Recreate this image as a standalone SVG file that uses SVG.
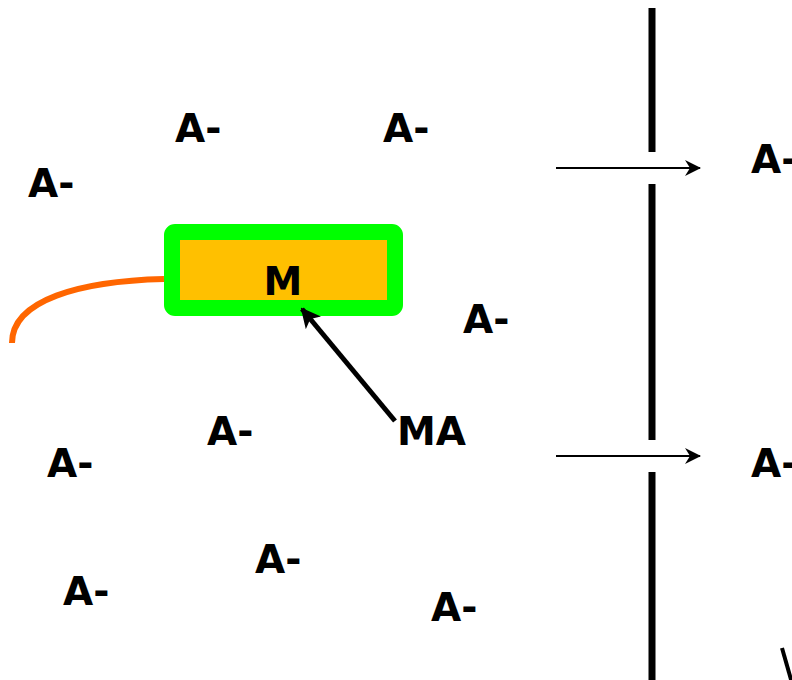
<svg xmlns="http://www.w3.org/2000/svg" width="792" height="680" viewBox="0 0 792 680">
<style>
text{font-family:"DejaVu Sans","Open Sans",sans-serif;font-weight:bold;font-size:39px;fill:#000}
.bar{stroke:#000;stroke-width:7;fill:none}
.arr{stroke:#000;stroke-width:2;fill:none}
</style>
<defs>
<marker id="ah" viewBox="0 0 16 16" refX="15" refY="8" markerWidth="16" markerHeight="16" markerUnits="userSpaceOnUse" orient="auto">
<path d="M0,0 L16,8 L0,16 L5,8 Z" fill="#000"/>
</marker>
<marker id="ah2" viewBox="0 0 20 20" refX="18" refY="10" markerWidth="20" markerHeight="20" markerUnits="userSpaceOnUse" orient="auto">
<path d="M0,0 L20,10 L0,20 L5,10 Z" fill="#000"/>
</marker>
</defs>
<g id="wall">
<line class="bar" x1="652" y1="8" x2="652" y2="152"/>
<line class="bar" x1="652" y1="184" x2="652" y2="440"/>
<line class="bar" x1="652" y1="472" x2="652" y2="680"/>
</g>
<g id="node-M">
<rect x="172" y="232" width="223" height="76" rx="3" fill="#FFC000" stroke="#00FF00" stroke-width="16"/>
<text x="283" y="295" text-anchor="middle">M</text>
</g>
<g id="labels">
<text x="175" y="142">A-</text>
<text x="383" y="142">A-</text>
<text x="28" y="197">A-</text>
<text x="751" y="173">A-</text>
<text x="463" y="333">A-</text>
<text x="207" y="445">A-</text>
<text x="397" y="445">MA</text>
<text x="47" y="477">A-</text>
<text x="751" y="477">A-</text>
<text x="255" y="573">A-</text>
<text x="63" y="605">A-</text>
<text x="431" y="621">A-</text>
</g>
<g id="connectors">
<path d="M164,279 C80,281 12,300 12,343" stroke="#FF6600" stroke-width="6" fill="none"/>
<line x1="395" y1="421" x2="302" y2="309" stroke="#000" stroke-width="5" marker-end="url(#ah2)"/>
<line class="arr" x1="556" y1="168" x2="700" y2="168" marker-end="url(#ah)"/>
<line class="arr" x1="556" y1="456" x2="700" y2="456" marker-end="url(#ah)"/>
<line x1="782" y1="648" x2="792" y2="683" stroke="#000" stroke-width="4"/>
</g>
</svg>
